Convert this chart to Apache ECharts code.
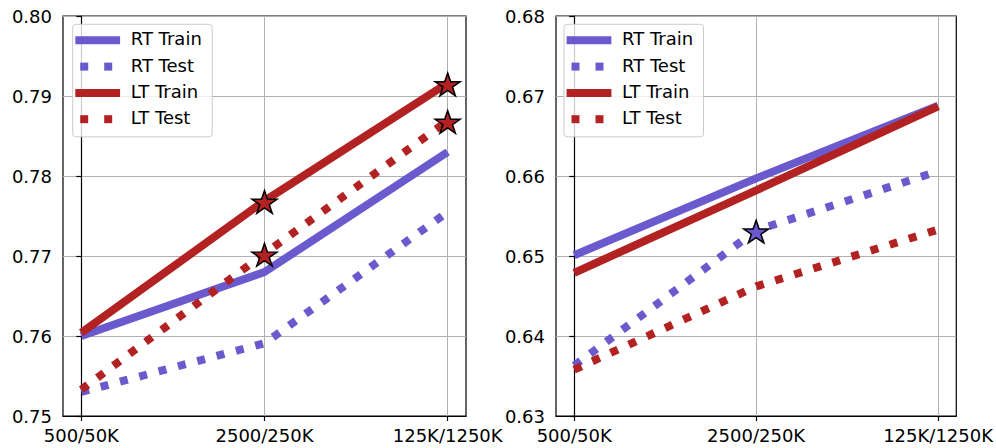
<!DOCTYPE html>
<html><head><meta charset="utf-8">
<script src="https://cdn.jsdelivr.net/npm/echarts@6/dist/echarts.min.js"></script>
<style>html,body{margin:0;padding:0;background:#fff}#c{width:996px;height:448px}</style>
</head><body><div id="c"></div>
<script>
// ---------- data ----------
const categories = ['500/50K', '2500/250K', '125K/1250K'];
const xIndex = [0, 1, 2];

const leftRTTrain = [0.7600, 0.7680, 0.7830];
const leftRTTest  = [0.7530, 0.7591, 0.7755];
const leftLTTrain = [0.7604, 0.7769, 0.7916];
const leftLTTest  = [0.7533, 0.7703, 0.7869];

const rightRTTrain = [0.6501, 0.6597, 0.6688];
const rightRTTest  = [0.6363, 0.6532, 0.6606];
const rightLTTrain = [0.6479, 0.6582, 0.6687];
const rightLTTest  = [0.6358, 0.6462, 0.6533];

const leftYTicks  = [0.75, 0.76, 0.77, 0.78, 0.79, 0.80];
const rightYTicks = [0.63, 0.64, 0.65, 0.66, 0.67, 0.68];

const seriesNames = ['RT Train', 'RT Test', 'LT Train', 'LT Test'];
// indices of starred (best) points
const leftStars  = { 'LT Train': [1, 2], 'LT Test': [1, 2] };
const rightStars = { 'RT Test': [1] };

// ---------- styles ----------
const BLUE = '#6a5acd', RED = '#b22222';
const FONT = 'DejaVu Sans';
const FS = 18;
const styleOf = {
  'RT Train': { color: BLUE, dotted: false },
  'RT Test':  { color: BLUE, dotted: true },
  'LT Train': { color: RED,  dotted: false },
  'LT Test':  { color: RED,  dotted: true }
};
const STAR = 'path://M0,-100 L22.45,-30.9 L95.1,-30.9 L36.3,11.8 L58.8,80.9 L0,38.2 L-58.8,80.9 L-36.3,11.8 L-95.1,-30.9 L-22.45,-30.9 Z';

const grids = [
  { left: 63, top: 16, width: 403, height: 400 },
  { left: 556, top: 16, width: 402, height: 400 }
];

function xAxisFor(i) {
  return {
    type: 'value', gridIndex: i, min: -0.1, max: 2.1,
    axisLine: { show: true, lineStyle: { color: '#000', width: 1.2 } },
    axisTick: { show: true, customValues: xIndex, length: 5, lineStyle: { color: '#000', width: 1.2 } },
    axisLabel: { customValues: xIndex, formatter: v => categories[Math.round(v)] || '',
      color: '#000', fontFamily: FONT, fontSize: FS, margin: 10 },
    splitLine: { show: true, lineStyle: { color: '#b0b0b0', width: 1 } }
  };
}
function yAxisFor(i, ticks) {
  return {
    type: 'value', gridIndex: i, min: ticks[0], max: ticks[ticks.length - 1], interval: 0.01,
    axisLine: { show: true, lineStyle: { color: '#000', width: 1.2 } },
    axisTick: { show: true, length: 5, lineStyle: { color: '#000', width: 1.2 } },
    axisLabel: { formatter: v => v.toFixed(2), color: '#000', fontFamily: FONT, fontSize: FS, margin: 11 },
    splitLine: { show: true, lineStyle: { color: '#b0b0b0', width: 1 } }
  };
}

function lineSeries(gi, name, values) {
  const st = styleOf[name];
  return {
    type: 'line', name: name, xAxisIndex: gi, yAxisIndex: gi,
    data: xIndex.map((x, k) => [x, values[k]]),
    showSymbol: false, symbol: 'none', silent: true, animation: false, z: 3,
    lineStyle: { color: st.color, width: 8, type: st.dotted ? [8, 12] : 'solid', cap: 'butt' }
  };
}
function starSeries(gi, name, values, idxs) {
  return {
    type: 'scatter', xAxisIndex: gi, yAxisIndex: gi, silent: true, animation: false, z: 10,
    data: idxs.map(k => [xIndex[k], values[k]]),
    symbol: STAR, symbolSize: [25, 23.8], symbolKeepAspect: true, symbolOffset: [0, 1.2],
    itemStyle: { color: styleOf[name].color, borderColor: '#000', borderWidth: 1.5, opacity: 1 }
  };
}

const panels = [
  { data: { 'RT Train': leftRTTrain, 'RT Test': leftRTTest, 'LT Train': leftLTTrain, 'LT Test': leftLTTest }, stars: leftStars, ticks: leftYTicks },
  { data: { 'RT Train': rightRTTrain, 'RT Test': rightRTTest, 'LT Train': rightLTTrain, 'LT Test': rightLTTest }, stars: rightStars, ticks: rightYTicks }
];

const series = [];
panels.forEach((p, gi) => {
  seriesNames.forEach(n => series.push(lineSeries(gi, n, p.data[n])));
  Object.keys(p.stars).forEach(n => series.push(starSeries(gi, n, p.data[n], p.stars[n])));
});

function legendGraphic(x0, y0) {
  const els = [{
    type: 'rect', shape: { x: x0, y: y0, width: 139.5, height: 112.5, r: 3 },
    style: { fill: 'rgba(255,255,255,0.8)', stroke: '#cccccc', lineWidth: 1 }, z: 20
  }];
  seriesNames.forEach((n, k) => {
    const st = styleOf[n];
    const cy = y0 + 16 + k * 26.3;
    if (st.dotted) {
      [7.5, 31.5].forEach(dx => els.push({ type: 'rect', shape: { x: x0 + dx, y: cy - 4, width: 8, height: 8 }, style: { fill: st.color }, z: 21 }));
    } else {
      els.push({ type: 'rect', shape: { x: x0 + 2.6, y: cy - 4, width: 44.8, height: 8 }, style: { fill: st.color }, z: 21 });
    }
    els.push({ type: 'text', x: x0 + 58, y: cy - 1.5, style: { text: n, fill: '#000', font: FS + 'px "' + FONT + '"', verticalAlign: 'middle', align: 'left' }, z: 21 });
  });
  return els;
}

const chart = echarts.init(document.getElementById('c'), null, { renderer: 'svg' });
chart.setOption({
  animation: false,
  backgroundColor: '#fff',
  grid: grids.map(g => Object.assign({ show: true, borderColor: '#000', borderWidth: 1.2, backgroundColor: 'transparent' }, g)),
  xAxis: [xAxisFor(0), xAxisFor(1)],
  yAxis: [yAxisFor(0, leftYTicks), yAxisFor(1, rightYTicks)],
  series: series,
  graphic: legendGraphic(72.7, 24.3).concat(legendGraphic(564, 24.3))
});
</script></body></html>
